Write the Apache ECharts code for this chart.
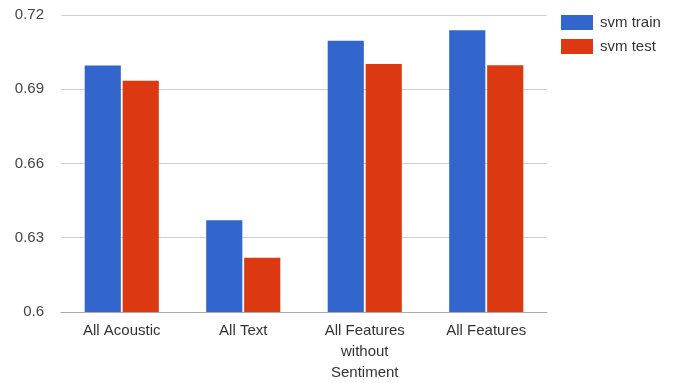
<!DOCTYPE html>
<html>
<head>
<meta charset="utf-8">
<script src="https://cdn.jsdelivr.net/npm/echarts@6/dist/echarts.min.js"></script>
<style>
  html, body { margin: 0; padding: 0; background: #fff; }
  #chart { width: 678px; height: 383px; }
</style>
</head>
<body>
<div id="chart"></div>
<script>
// Feature-set comparison of SVM accuracy on train and test data
const categories = ['All Acoustic', 'All Text', 'All Features\nwithout\nSentiment', 'All Features'];
const svmTrain = [0.6996, 0.6371, 0.7096, 0.7138];
const svmTest = [0.6934, 0.6219, 0.7002, 0.6997];
const yTicks = [0.6, 0.63, 0.66, 0.69, 0.72];

const font = 'Liberation Sans, Arial, sans-serif';
const chart = echarts.init(document.getElementById('chart'));

chart.setOption({
  animation: false,
  textStyle: { fontFamily: font },
  grid: { left: 61, right: 131, top: 15, bottom: 70 },
  legend: {
    orient: 'vertical',
    left: 556,
    top: 10,
    itemWidth: 32,
    itemHeight: 15,
    itemGap: 9,
    icon: 'rect',
    textStyle: { fontFamily: font, fontSize: 15, color: '#333', padding: [0, 0, 0, 2] },
    data: ['svm train', 'svm test']
  },
  xAxis: {
    type: 'category',
    data: categories,
    axisTick: { show: false },
    axisLine: { show: true, lineStyle: { color: '#aaa' } },
    axisLabel: {
      color: '#333',
      fontSize: 15,
      lineHeight: 21,
      margin: 8,
      interval: 0
    }
  },
  yAxis: {
    type: 'value',
    min: yTicks[0],
    max: yTicks[yTicks.length - 1],
    interval: 0.03,
    axisLine: { show: false },
    axisTick: { show: false },
    splitLine: { lineStyle: { color: '#d0d0d0' } },
    axisLabel: {
      color: '#444',
      fontSize: 15,
      margin: 17,
      formatter: v => String(parseFloat(v.toFixed(2)))
    }
  },
  series: [
    {
      name: 'svm train',
      type: 'bar',
      data: svmTrain,
      itemStyle: { color: '#3366cc' },
      barGap: '5%',
      barCategoryGap: '39%'
    },
    {
      name: 'svm test',
      type: 'bar',
      data: svmTest,
      itemStyle: { color: '#dc3912' }
    }
  ]
});
</script>
</body>
</html>
